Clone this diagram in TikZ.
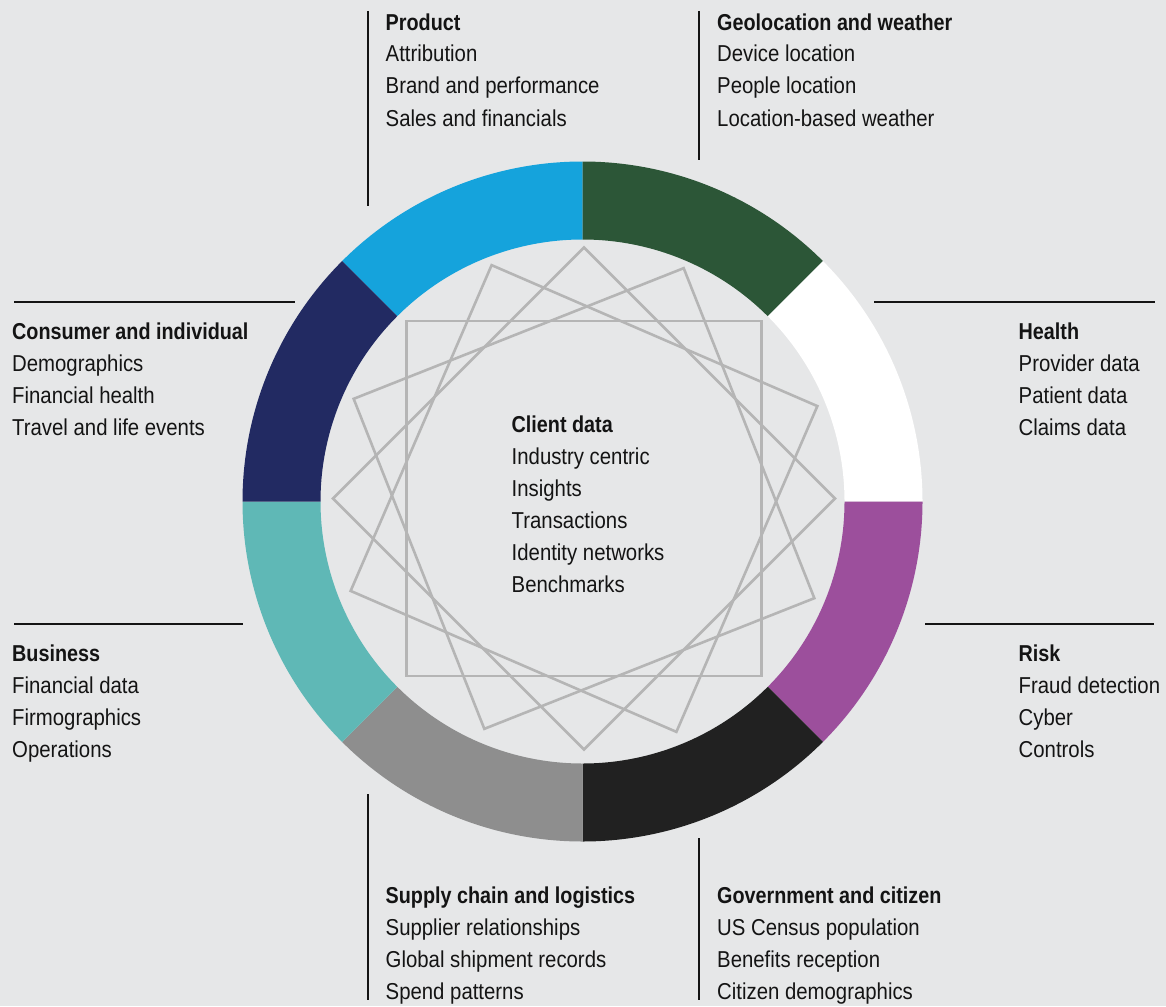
\documentclass[tikz,border=0pt]{standalone}
\usepackage{fontspec}
\setmainfont{Liberation Sans}[FakeStretch=0.885, BoldFeatures={FakeStretch=0.86}]
\usetikzlibrary{calc}
\definecolor{bg}{HTML}{E6E7E8}
\definecolor{cblue}{HTML}{15A3DC}
\definecolor{cgreen}{HTML}{2C5637}
\definecolor{cpurple}{HTML}{9C4F9C}
\definecolor{cblack}{HTML}{212121}
\definecolor{cgrey}{HTML}{8E8E8E}
\definecolor{cteal}{HTML}{5FB8B6}
\definecolor{cnavy}{HTML}{222A62}
\definecolor{starc}{HTML}{B5B5B5}
\definecolor{txt}{HTML}{141414}
\begin{document}
\begin{tikzpicture}[x=1pt,y=-1pt,
  lbl/.style={anchor=base west, align=left, inner sep=0pt, text=txt,
              font=\fontsize{23}{32}\selectfont},
  rule/.style={draw=txt, line width=1.5pt},
  starline/.style={draw=starc, line width=2.6pt}]
\fill[bg] (0,0) rectangle (1166,1006);
\useasboundingbox (0,0) rectangle (1166,1006);
\coordinate (C) at (582.5,501.5);
\coordinate (S) at (584,498.5);
% ring segments (visual start angle / colour)
\foreach \a/\c in {90/cblue,45/cgreen,0/white,-45/cpurple,-90/cblack,-135/cgrey,180/cteal,135/cnavy}{
  \fill[\c] ($(C)+({-\a}:340)$) arc[start angle={-\a}, delta angle=-45, radius=340]
     -- ($(C)+({-\a-45}:262)$) arc[start angle={-\a-45}, delta angle=45, radius=262] -- cycle;
}
% star of four squares
\foreach \t in {0,21.6,45,66.6}{
  \draw[starline] ($(S)+({-(\t+45)}:251)$) -- ($(S)+({-(\t+135)}:251)$)
     -- ($(S)+({-(\t+225)}:251)$) -- ($(S)+({-(\t+315)}:251)$) -- cycle;
}
% rules
\draw[rule] (368,11) -- (368,205.5);
\draw[rule] (699,11) -- (699,160);
\draw[rule] (14,302) -- (295,302);
\draw[rule] (874,302) -- (1155,302);
\draw[rule] (14,624) -- (243,624);
\draw[rule] (925,624) -- (1154,624);
\draw[rule] (368,794) -- (368,1000);
\draw[rule] (699,838) -- (699,1000);
% labels (anchored at the baseline of the last line)
\node[lbl] (product) at (385.5,126) {\textbf{Product}\\Attribution\\Brand and performance\\Sales and financials};
\node[lbl] (geo) at (717,126) {\textbf{Geolocation and weather}\\Device location\\People location\\Location-based weather};
\node[lbl] (consumer) at (12,435.5) {\textbf{Consumer and individual}\\Demographics\\Financial health\\Travel and life events};
\node[lbl] (health) at (1018.5,435.5) {\textbf{Health}\\Provider data\\Patient data\\Claims data};
\node[lbl] (client) at (511.5,592.5) {\textbf{Client data}\\Industry centric\\Insights\\Transactions\\Identity networks\\Benchmarks};
\node[lbl] (business) at (12,757.5) {\textbf{Business}\\Financial data\\Firmographics\\Operations};
\node[lbl] (risk) at (1018.5,757.5) {\textbf{Risk}\\Fraud detection\\Cyber\\Controls};
\node[lbl] (supply) at (385.5,999.5) {\textbf{Supply chain and logistics}\\Supplier relationships\\Global shipment records\\Spend patterns};
\node[lbl] (gov) at (717,999.5) {\textbf{Government and citizen}\\US Census population\\Benefits reception\\Citizen demographics};
\end{tikzpicture}
\end{document}
